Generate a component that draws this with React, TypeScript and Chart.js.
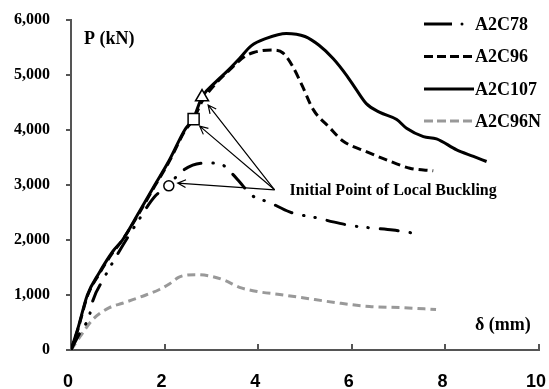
import React, { useEffect, useRef } from 'react';
import { Chart, registerables } from 'chart.js';

Chart.register(...registerables);

// ---- data (δ in mm, P in kN) ----
const a2c78X = [0, 0.15, 0.4, 0.46, 0.7, 1.0, 1.4, 1.8, 2.09, 2.3, 2.6, 2.9, 3.2, 3.45, 3.6, 3.85, 4.25, 4.67, 5.0, 5.27, 5.6, 6.0, 6.4, 6.88, 7.28];
const a2c78Y = [0, 250, 650, 880, 1300, 1750, 2300, 2800, 2985, 3200, 3360, 3400, 3380, 3200, 3060, 2820, 2680, 2510, 2440, 2400, 2330, 2260, 2220, 2180, 2130];

const a2c96X = [0, 0.15, 0.35, 0.6, 0.9, 1.1, 1.45, 1.79, 2.1, 2.43, 2.62, 2.8, 3.1, 3.4, 3.7, 3.9, 4.32, 4.53, 4.74, 4.95, 5.17, 5.53, 5.81, 6.31, 6.74, 7.24, 7.74];
const a2c96Y = [0, 380, 980, 1380, 1780, 2000, 2480, 2980, 3430, 3980, 4200, 4520, 4850, 5100, 5330, 5410, 5454, 5400, 5150, 4788, 4380, 4040, 3800, 3608, 3457, 3306, 3258];

const a2c107X = [0, 0.15, 0.35, 0.6, 0.9, 1.1, 1.45, 1.79, 2.1, 2.43, 2.62, 2.8, 3.1, 3.35, 3.6, 3.85, 4.17, 4.6, 5.0, 5.3, 5.6, 5.9, 6.1, 6.31, 6.6, 6.96, 7.17, 7.53, 7.81, 8.24, 8.6, 8.88];
const a2c107Y = [0, 400, 1000, 1400, 1800, 2000, 2500, 3000, 3450, 4000, 4220, 4600, 4880, 5080, 5300, 5530, 5665, 5756, 5700, 5540, 5300, 4980, 4728, 4480, 4320, 4190, 4032, 3880, 3840, 3639, 3520, 3427];

const a2c96nX = [0, 0.2, 0.46, 0.82, 1.1, 1.32, 1.6, 1.89, 2.1, 2.32, 2.68, 3.0, 3.3, 3.6, 4.0, 4.46, 4.95, 5.67, 6.38, 7.1, 7.8];
const a2c96nY = [0, 250, 550, 770, 850, 915, 1000, 1100, 1200, 1330, 1370, 1340, 1260, 1140, 1060, 1010, 950, 860, 790, 770, 735];

// initial local buckling points: A2C78 (circle), A2C96 (square), A2C107 (triangle)
const bucklingX = [2.09, 2.62, 2.8];
const bucklingY = [2985, 4198, 4600];

// callout arrows: common origin and tips (data coords)
const calloutOrigin = { x: 4.35, y: 2913 };
const calloutTipsX = [2.28, 2.75, 2.93];
const calloutTipsY = [3034, 4070, 4455];

const seriesNames = ['A2C78', 'A2C96', 'A2C107', 'A2C96N'];
const xTicks = [0, 2, 4, 6, 8, 10];
const yTicks = [0, 1000, 2000, 3000, 4000, 5000, 6000];

const pts = (xs: number[], ys: number[]) => xs.map((x, i) => ({ x, y: ys[i] }));

const SERIF = '"Liberation Serif", "Times New Roman", serif';
const SANS = '"Liberation Sans", Arial, sans-serif';

function drawArrow(ctx: CanvasRenderingContext2D, x1: number, y1: number, x2: number, y2: number) {
  const a = Math.atan2(y2 - y1, x2 - x1);
  const h = 9;
  const s = 0.45;
  ctx.beginPath();
  ctx.moveTo(x1, y1);
  ctx.lineTo(x2, y2);
  ctx.moveTo(x2 - h * Math.cos(a - s), y2 - h * Math.sin(a - s));
  ctx.lineTo(x2, y2);
  ctx.lineTo(x2 - h * Math.cos(a + s), y2 - h * Math.sin(a + s));
  ctx.stroke();
}

const overlayPlugin = {
  id: 'overlay',
  afterDatasetsDraw(chart: any) {
    const { ctx, scales, chartArea } = chart;
    const xs = scales.x;
    const ys = scales.y;
    ctx.save();

    // inward x-axis tick marks
    ctx.strokeStyle = '#555';
    ctx.lineWidth = 2;
    xTicks.slice(1).forEach((v) => {
      const px = Math.round(xs.getPixelForValue(v));
      ctx.beginPath();
      ctx.moveTo(px, chartArea.bottom);
      ctx.lineTo(px, chartArea.bottom - 6);
      ctx.stroke();
    });

    // callout arrows
    ctx.strokeStyle = '#000';
    ctx.lineWidth = 1.2;
    const ox = xs.getPixelForValue(calloutOrigin.x);
    const oy = ys.getPixelForValue(calloutOrigin.y);
    calloutTipsX.forEach((tx, i) => {
      drawArrow(ctx, ox, oy, xs.getPixelForValue(tx), ys.getPixelForValue(calloutTipsY[i]));
    });

    // texts
    ctx.fillStyle = '#000';
    ctx.textBaseline = 'middle';
    ctx.textAlign = 'left';
    ctx.font = `bold 16px ${SERIF}`;
    ctx.fillText('Initial Point of Local Buckling', ox + 15, oy + 1);

    ctx.font = `bold 18px ${SERIF}`;
    ctx.fillText('P (kN)', chartArea.left + 13, chartArea.top + 19);
    ctx.fillText('δ (mm)', chartArea.right - 64, chartArea.bottom - 25);

    // legend
    const rowsY = [24, 56.5, 89, 121];
    const lx0 = 424;
    const lx1 = 474;
    const tx = 475;
    ctx.lineWidth = 3;
    ctx.strokeStyle = '#000';
    ctx.setLineDash([]);
    ctx.beginPath();
    ctx.moveTo(lx0, rowsY[0]);
    ctx.lineTo(452, rowsY[0]);
    ctx.stroke();
    ctx.beginPath();
    ctx.arc(462, rowsY[0], 1.5, 0, Math.PI * 2);
    ctx.fillStyle = '#000';
    ctx.fill();
    ctx.setLineDash([9, 4]);
    ctx.beginPath();
    ctx.moveTo(lx0, rowsY[1]);
    ctx.lineTo(lx1, rowsY[1]);
    ctx.stroke();
    ctx.setLineDash([]);
    ctx.beginPath();
    ctx.moveTo(lx0, rowsY[2]);
    ctx.lineTo(lx1, rowsY[2]);
    ctx.stroke();
    ctx.strokeStyle = '#999';
    ctx.setLineDash([9, 4]);
    ctx.beginPath();
    ctx.moveTo(lx0, rowsY[3]);
    ctx.lineTo(lx1, rowsY[3]);
    ctx.stroke();
    ctx.setLineDash([]);

    ctx.fillStyle = '#000';
    ctx.font = `bold 18px ${SERIF}`;
    seriesNames.forEach((n, i) => ctx.fillText(n, tx, rowsY[i] + 1));

    ctx.restore();
  },
};

export default function App() {
  const ref = useRef<HTMLCanvasElement | null>(null);

  useEffect(() => {
    if (!ref.current) return;
    const lineBase = {
      showLine: true,
      pointRadius: 0,
      borderWidth: 3,
      fill: false,
      cubicInterpolationMode: 'monotone' as const,
    };
    const chart = new Chart(ref.current, {
      type: 'scatter',
      data: {
        datasets: [
          {
            ...lineBase,
            label: 'A2C96N',
            order: 5,
            data: pts(a2c96nX, a2c96nY),
            borderColor: '#999',
            borderDash: [8, 5],
          },
          {
            ...lineBase,
            label: 'A2C78',
            order: 4,
            data: pts(a2c78X, a2c78Y),
            borderColor: '#000',
            borderDash: [18, 12, 0.5, 11, 0.5, 12],
            borderCapStyle: 'round',
          },
          {
            ...lineBase,
            label: 'A2C96',
            order: 3,
            data: pts(a2c96X, a2c96Y),
            borderColor: '#000',
            borderDash: [9, 5],
          },
          {
            ...lineBase,
            label: 'A2C107',
            order: 2,
            data: pts(a2c107X, a2c107Y),
            borderColor: '#000',
          },
          {
            label: 'markers',
            order: 1,
            data: pts(bucklingX, bucklingY),
            showLine: false,
            pointStyle: ['circle', 'rect', 'triangle'],
            pointRadius: [5, 7.8, 7.5],
            pointBackgroundColor: '#fff',
            pointBorderColor: '#000',
            pointBorderWidth: 1.5,
          } as any,
        ],
      },
      options: {
        animation: false,
        responsive: true,
        maintainAspectRatio: false,
        layout: { autoPadding: false, padding: { top: 20, right: 10, left: 0, bottom: 0 } },
        plugins: { legend: { display: false }, tooltip: { enabled: false } },
        scales: {
          x: {
            type: 'linear',
            min: 0,
            max: 10,
            afterBuildTicks: (s: any) => {
              s.ticks = xTicks.map((v) => ({ value: v }));
            },
            afterFit: (s: any) => {
              s.height = 39;
              s.paddingLeft = 0;
              s.paddingRight = 0;
            },
            grid: { drawOnChartArea: false, drawTicks: false },
            border: { display: true, color: '#555', width: 2 },
            ticks: {
              color: '#000',
              padding: 21,
              labelOffset: -3,
              maxRotation: 0,
              autoSkip: false,
              font: { family: SANS, size: 18, weight: 'bold' },
              callback: (v: any) => String(v),
            },
          },
          y: {
            type: 'linear',
            min: 0,
            max: 6000,
            afterBuildTicks: (s: any) => {
              s.ticks = yTicks.map((v) => ({ value: v }));
            },
            afterFit: (s: any) => {
              s.width = 71;
              s.paddingTop = 0;
              s.paddingBottom = 0;
            },
            grid: { drawOnChartArea: false, drawTicks: true, tickLength: 5, color: '#555', lineWidth: 2 },
            border: { display: true, color: '#555', width: 2 },
            ticks: {
              color: '#000',
              padding: 16,
              autoSkip: false,
              font: { family: SERIF, size: 16, weight: 'bold' },
              callback: (v: any) => Number(v).toLocaleString('en-US'),
            },
          },
        },
      },
      plugins: [overlayPlugin],
    } as any);
    return () => chart.destroy();
  }, []);

  return (
    <div style={{ position: 'absolute', left: 0, top: 0, width: 549, height: 389, background: '#fff' }}>
      <canvas ref={ref} />
    </div>
  );
}
